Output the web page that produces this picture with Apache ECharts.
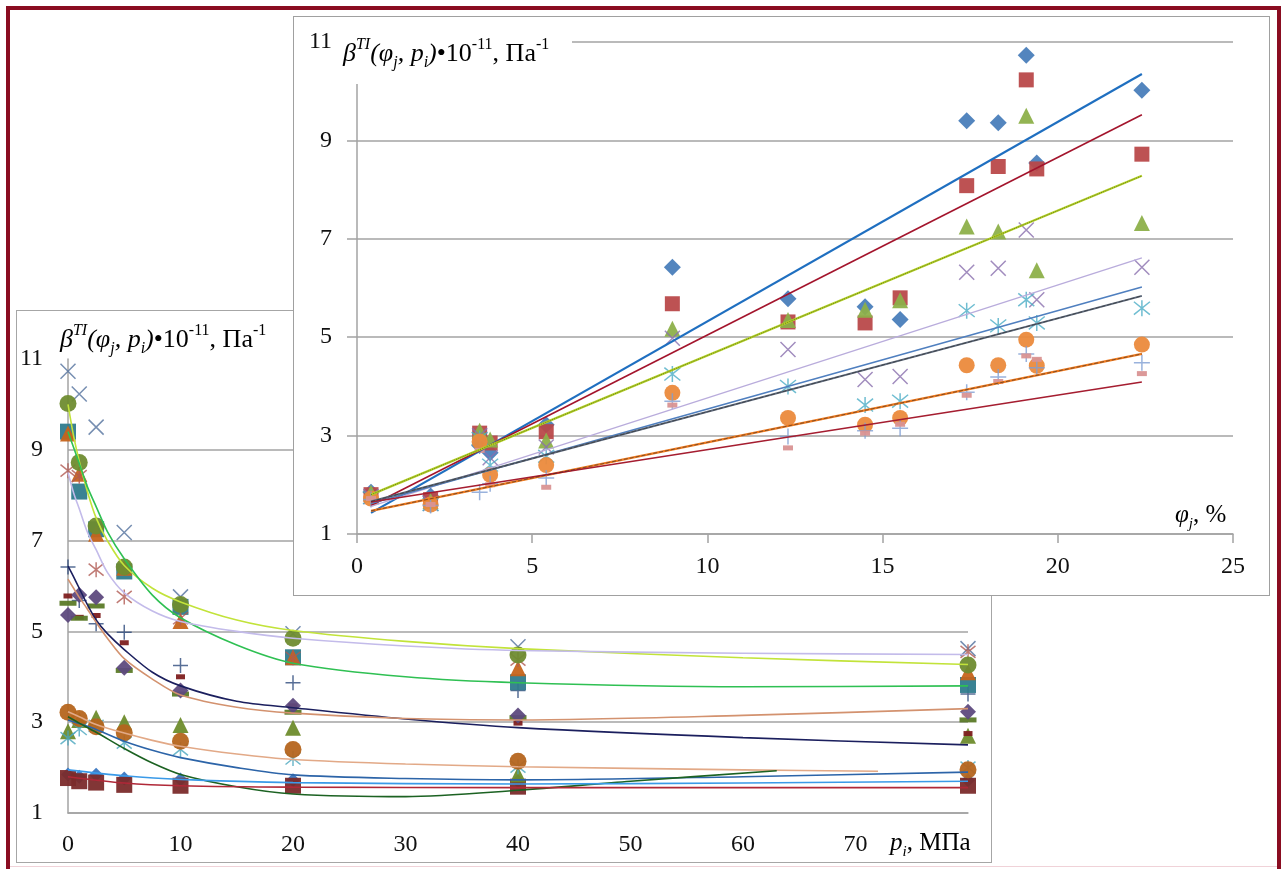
<!DOCTYPE html>
<html>
<head>
<meta charset="utf-8">
<script src="https://cdn.jsdelivr.net/npm/echarts@6.0.0/dist/echarts.min.js"></script>
<style>
  html, body { margin: 0; padding: 0; background: #fff; width: 1283px; height: 869px; overflow: hidden; }
  .abs { position: absolute; box-sizing: border-box; }
</style>
</head>
<body>
<div class="abs" style="left:6px;top:6px;width:1275px;height:900px;border:4px solid #8a0d21;"></div>
<div class="abs" style="left:10px;top:866px;width:1267px;height:1px;background:#f0d2d8;"></div>
<div id="bottom" class="abs" style="left:16px;top:310px;width:976px;height:553px;z-index:1;"></div>
<div class="abs" style="left:16px;top:310px;width:976px;height:553px;border:1px solid #a6a6a6;z-index:2;pointer-events:none;"></div>
<div id="top" class="abs" style="left:293px;top:16px;width:977px;height:580px;background:#fff;z-index:3;"></div>
<div class="abs" style="left:293px;top:16px;width:977px;height:580px;border:1px solid #a0a0a0;z-index:4;pointer-events:none;"></div>
<script>
// φj, % (строки) и p, МПа (столбцы)
const PHI = [0.4, 2.1, 3.5, 3.8, 5.4, 9.0, 12.3, 14.5, 15.5, 17.4, 18.3, 19.1, 19.4, 22.4];
const P = [0, 1, 2.5, 5, 10, 20, 40, 80];

// β(φj, pi)·10^-11, Па^-1
const BETA_04 = [1.85, 1.80, 1.84, 1.76, 1.74, 1.72, 1.70, 1.72];
const BETA_21 = [1.77, 1.70, 1.67, 1.62, 1.60, 1.60, 1.58, 1.60];
const BETA_35 = [2.80, 3.05, 3.10, 3.00, 2.94, 2.88, 1.85, 2.70];
const BETA_38 = [2.65, 2.85, 2.92, 2.55, 2.40, 2.20, 2.02, 2.00];
const BETA_54 = [3.22, 3.08, 2.90, 2.77, 2.58, 2.40, 2.14, 1.95];
const BETA_90 = [6.42, 5.68, 5.17, 4.98, 4.25, 3.87, 3.70, 3.62];
const BETA_123 = [5.78, 5.31, 5.35, 4.75, 4.00, 3.36, 2.98, 2.75];
const BETA_145 = [5.62, 5.29, 5.56, 4.14, 3.62, 3.22, 3.10, 3.05];
const BETA_155 = [5.36, 5.80, 5.75, 4.20, 3.70, 3.36, 3.15, 3.23];
const BETA_174 = [9.40, 8.08, 7.25, 6.32, 5.54, 4.43, 3.88, 3.82];
const BETA_183 = [9.36, 8.47, 7.15, 6.40, 5.23, 4.43, 4.19, 4.10];
const BETA_191 = [10.73, 10.23, 9.50, 7.18, 5.76, 4.95, 4.66, 4.62];
const BETA_194 = [8.54, 8.42, 6.36, 5.76, 5.29, 4.42, 4.38, 4.55];
const BETA_224 = [10.02, 8.72, 7.32, 6.42, 5.59, 4.85, 4.48, 4.26];
const BETA = [BETA_04, BETA_21, BETA_35, BETA_38, BETA_54, BETA_90, BETA_123,
  BETA_145, BETA_155, BETA_174, BETA_183, BETA_191, BETA_194, BETA_224];

// линейные тренды верхнего графика: значения при φ = 0.4 и φ = 22.4
const TREND_X = [0.4, 22.4];
const TREND_START = [1.43, 1.58, 1.80, 1.56, 1.62, 1.66, 1.47, 1.65];
const TREND_END = [10.35, 9.52, 8.28, 6.61, 6.02, 5.84, 4.66, 4.09];

// аппроксимирующие кривые нижнего графика [p, β]
const FIT_LIME = [[0, 10.0], [0.5, 9.3], [1, 8.75], [1.7, 8.1], [2.5, 7.5], [3.5, 7.0], [5, 6.45], [7.5, 5.95], [10, 5.65], [15, 5.25], [20, 5.02], [30, 4.78], [40, 4.62], [60, 4.42], [80, 4.27]];
const FIT_GREEN = [[0, 9.4], [0.5, 9.05], [1, 8.7], [1.7, 8.2], [2.5, 7.75], [3.5, 7.2], [5, 6.6], [7.5, 5.8], [10, 5.3], [15, 4.7], [20, 4.3], [30, 4.0], [40, 3.87], [60, 3.78], [80, 3.8]];
const FIT_LAVENDER = [[0, 8.5], [0.5, 8.05], [1, 7.7], [1.7, 7.2], [2.5, 6.8], [3.5, 6.3], [5, 5.85], [7.5, 5.45], [10, 5.22], [15, 5.0], [20, 4.85], [30, 4.68], [40, 4.58], [60, 4.52], [80, 4.49]];
const FIT_NAVY = [[0, 6.44], [0.5, 6.2], [1, 5.95], [1.7, 5.6], [2.5, 5.25], [3.5, 4.95], [5, 4.6], [7.5, 4.1], [10, 3.8], [15, 3.46], [20, 3.32], [30, 3.07], [40, 2.88], [60, 2.66], [80, 2.5]];
const FIT_TAN = [[0, 6.15], [0.5, 5.95], [1, 5.75], [1.7, 5.5], [2.5, 5.2], [3.5, 4.85], [5, 4.4], [7.5, 3.95], [10, 3.6], [15, 3.33], [20, 3.2], [30, 3.08], [40, 3.05], [60, 3.15], [80, 3.3]];
const FIT_TAN2 = [[0, 3.23], [1, 3.12], [2.5, 2.95], [5, 2.76], [7.5, 2.6], [10, 2.47], [15, 2.3], [20, 2.18], [30, 2.08], [40, 2.02], [60, 1.95], [72, 1.92]];
const FIT_STEEL = [[0, 3.05], [1, 2.97], [2.5, 2.84], [5, 2.58], [7.5, 2.38], [10, 2.22], [15, 2.0], [20, 1.84], [30, 1.76], [40, 1.73], [60, 1.8], [80, 1.9]];
const FIT_DKGREEN = [[0, 3.12], [1, 2.98], [2.5, 2.78], [5, 2.42], [7.5, 2.1], [10, 1.85], [15, 1.58], [20, 1.42], [30, 1.36], [40, 1.5], [50, 1.7], [63, 1.93]];
const FIT_LTBLUE = [[0, 1.95], [5, 1.82], [10, 1.74], [20, 1.67], [40, 1.64], [60, 1.66], [80, 1.7]];
const FIT_RED = [[0, 1.8], [5, 1.66], [10, 1.6], [20, 1.57], [40, 1.56], [80, 1.56]];
const FITS = [FIT_LIME, FIT_GREEN, FIT_LAVENDER, FIT_NAVY, FIT_TAN, FIT_TAN2, FIT_STEEL, FIT_DKGREEN, FIT_LTBLUE, FIT_RED];

const Y_TICKS = [1, 3, 5, 7, 9, 11];

// оформление
const SERIF = '"Liberation Serif", "Times New Roman", serif';
const GRID_C = '#a3a3a3';
const SYM = {
  diamond: 'diamond', square: 'rect', triangle: 'triangle', circle: 'circle', dash: 'rect',
  x: 'path://M0,0L10,10M10,0L0,10',
  star: 'path://M1,1L9,9M9,1L1,9M5,0L5,10',
  plus: 'path://M5,0L5,10M0,5L10,5'
};
const TOP_SYMBOLS = ['diamond', 'square', 'triangle', 'x', 'star', 'circle', 'plus', 'dash'];
const TOP_COLORS = ['#4a7ebb', '#b9494a', '#8db04a', '#8a6fae', '#4bacc6', '#eb8a3c', '#7f9fd3', '#d99494'];
const TOP_SIZES = [17, 15, 16, 15, 16, 16, 16, [10, 5]];
const TREND_COLORS = ['#1f6fc0', '#a3142c', '#b5d423', '#b9acdc', '#4f7fbf', '#5b6677', '#f07a1e', '#a51d30'];
const TREND_WIDTHS = [2.2, 1.6, 2.2, 1.3, 1.6, 2, 2.2, 1.6];
// тёмный пунктир поверх некоторых трендов (как наложение двух линий в оригинале)
const TREND_OVERLAY = [null, null, 'dotted', null, null, 'dashed', 'dashed', null];

const BOT_SYMBOLS = ['diamond', 'square', 'triangle', 'star', 'circle', 'plus', 'dash', 'dash',
  'diamond', 'square', 'triangle', 'x', 'star', 'circle'];
const BOT_COLORS = ['#3a76c0', '#7b2b2b', '#6e8c2c', '#4aa6be', '#b5651d', '#2d4a7c', '#7e1f1f',
  '#5b7a28', '#5e4a7e', '#2f7b8d', '#c6641b', '#54729e', '#b05a52', '#6f8c30'];
const BOT_SIZES = [14, 16, 16, 15, 17, 15, [9, 5], [17, 5], 16, 16, 16, 15, 15, 17];
const FIT_COLORS = ['#c2e33a', '#2fc053', '#c3bbea', '#1b1f5e', '#d3926f', '#e2a987', '#2c64a8', '#1c6222', '#3a9ae8', '#b02838'];

function markerStyle(kind, color) {
  const stroke = kind === 'x' || kind === 'star' || kind === 'plus';
  return stroke
    ? { color: 'rgba(0,0,0,0)', borderColor: color, borderWidth: 1.5 }
    : { color: color, opacity: 0.95 };
}

function rich(size, sub) {
  const it = { fontFamily: SERIF, fontStyle: 'italic', fontSize: size, color: '#16163a', verticalAlign: 'middle', lineHeight: 34 };
  const n = { fontFamily: SERIF, fontSize: size, color: '#111', verticalAlign: 'middle', lineHeight: 34 };
  return {
    it: it, n: n,
    supi: { fontFamily: SERIF, fontStyle: 'italic', fontSize: sub, color: '#16163a', verticalAlign: 'top', lineHeight: sub },
    sup: { fontFamily: SERIF, fontSize: sub, color: '#111', verticalAlign: 'top', lineHeight: sub },
    sub: { fontFamily: SERIF, fontStyle: 'italic', fontSize: sub, color: '#16163a', verticalAlign: 'bottom', lineHeight: sub }
  };
}
const TITLE = '{it|β}{supi|TI}{it|(φ}{sub|j}{it|, p}{sub|i}{it|)}{n|•10}{sup|-11}{n|, Па}{sup|-1}';

function axisLabel(margin) {
  return { margin: margin, fontFamily: SERIF, fontSize: 24, color: '#111' };
}

// ---------- верхний график: β от φj ----------
const topChart = echarts.init(document.getElementById('top'));
const topSeries = [];
P.forEach((p, j) => {
  topSeries.push({
    type: 'scatter', name: 'p=' + p, z: 2,
    symbol: SYM[TOP_SYMBOLS[j]], symbolSize: TOP_SIZES[j],
    itemStyle: markerStyle(TOP_SYMBOLS[j], TOP_COLORS[j]),
    data: PHI.map((f, i) => [f, BETA[i][j]])
  });
});
TREND_START.forEach((s, k) => {
  const pts = [[TREND_X[0], s], [TREND_X[1], TREND_END[k]]];
  topSeries.push({
    type: 'line', z: 3, silent: true, symbol: 'none',
    lineStyle: { color: TREND_COLORS[k], width: TREND_WIDTHS[k] },
    data: pts
  });
  if (TREND_OVERLAY[k]) {
    topSeries.push({
      type: 'line', z: 4, silent: true, symbol: 'none',
      lineStyle: { color: 'rgba(40,40,40,0.55)', width: 1, type: TREND_OVERLAY[k] },
      data: pts
    });
  }
});
topChart.setOption({
  animation: false,
  grid: { left: 64, top: 26, width: 876, height: 492 },
  xAxis: {
    type: 'value', min: 0, max: 25, interval: 5,
    axisLine: { lineStyle: { color: GRID_C, width: 1.5 } },
    axisTick: { show: true, length: 9, lineStyle: { color: GRID_C, width: 1.5 } },
    axisLabel: axisLabel(21), splitLine: { show: false }
  },
  yAxis: {
    type: 'value', min: Y_TICKS[0], max: Y_TICKS[Y_TICKS.length - 1], interval: 2,
    axisLine: { show: true, lineStyle: { color: GRID_C, width: 1.5 } },
    axisTick: { show: true, length: 10, lineStyle: { color: GRID_C, width: 1.5 } },
    axisLabel: axisLabel(25),
    splitLine: { show: true, lineStyle: { color: GRID_C, width: 1.5 } }
  },
  graphic: [
    { type: 'rect', z: 100, shape: { x: 47, y: 8, width: 232, height: 60 }, style: { fill: '#fff' } },
    { type: 'text', z: 101, x: 50, y: 38, style: { text: TITLE, rich: rich(26, 16), verticalAlign: 'middle' } },
    { type: 'text', z: 101, x: 882, y: 499, style: { text: '{it|φ}{sub|j}{n|, %}', rich: rich(25, 15), verticalAlign: 'middle' } }
  ],
  series: topSeries
});

// ---------- нижний график: β от pi ----------
const botChart = echarts.init(document.getElementById('bottom'));
const botSeries = [];
PHI.forEach((f, i) => {
  botSeries.push({
    type: 'scatter', name: 'φ=' + f, z: 2,
    symbol: SYM[BOT_SYMBOLS[i]], symbolSize: BOT_SIZES[i],
    itemStyle: markerStyle(BOT_SYMBOLS[i], BOT_COLORS[i]),
    data: P.map((p, j) => [p, BETA[i][j]])
  });
});
FITS.forEach((pts, k) => {
  botSeries.push({
    type: 'line', z: 3, silent: true, symbol: 'none', smooth: 0.3,
    lineStyle: { color: FIT_COLORS[k], width: 1.6 },
    data: pts
  });
});
botChart.setOption({
  animation: false,
  grid: { left: 52, top: 49, width: 900, height: 454 },
  xAxis: {
    type: 'value', min: 0, max: 80, interval: 10,
    axisLine: { lineStyle: { color: GRID_C, width: 1.5 } },
    axisTick: { show: false },
    axisLabel: Object.assign(axisLabel(20), { formatter: v => (v === 80 ? '' : String(v)) }),
    splitLine: { show: false }
  },
  yAxis: {
    type: 'value', min: Y_TICKS[0], max: Y_TICKS[Y_TICKS.length - 1], interval: 2,
    axisLine: { show: true, lineStyle: { color: GRID_C, width: 1.5 } },
    axisTick: { show: false },
    axisLabel: axisLabel(25),
    splitLine: { show: true, showMaxLine: false, lineStyle: { color: GRID_C, width: 1.5 } }
  },
  graphic: [
    { type: 'text', z: 101, x: 44, y: 30, style: { text: TITLE, rich: rich(26, 16), verticalAlign: 'middle' } },
    { type: 'text', z: 101, x: 874, y: 533, style: { text: '{it|p}{sub|i}{n|, МПа}', rich: rich(25, 15), verticalAlign: 'middle' } }
  ],
  series: botSeries
});
</script>
</body>
</html>
